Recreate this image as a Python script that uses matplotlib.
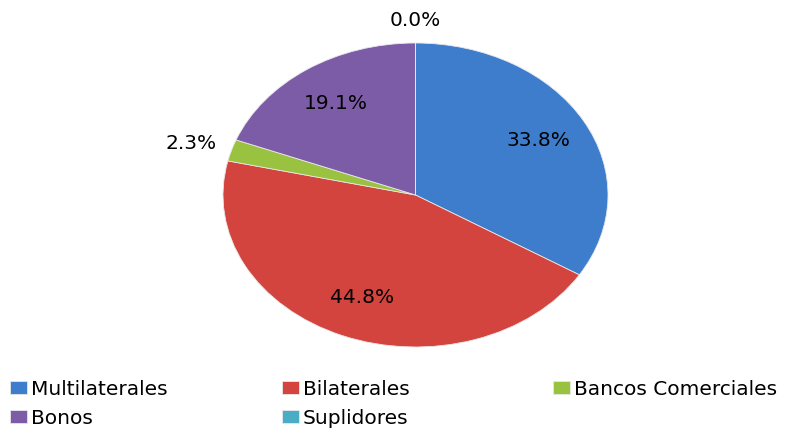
import numpy as np
import matplotlib.pyplot as plt

categories = ["Multilaterales", "Bilaterales", "Bancos Comerciales", "Bonos", "Suplidores"]
shares = [33.8, 44.8, 2.3, 19.1, 0.0]
colors = ["#3d7dcc", "#d4443f", "#98c23f", "#7d5ca7", "#4bacc6"]

plt.rcParams["font.family"] = ["DejaVu Sans"]

fig = plt.figure(figsize=(8.03, 4.30), dpi=100)
# axes box matches the squashed (3D-looking) ellipse of the pie
ax = fig.add_axes([223 / 803, 1 - 347 / 430, 385 / 803, 304 / 430])

wedges, texts, autotexts = ax.pie(
    shares, colors=colors, startangle=90, counterclock=False,
    autopct="%.1f%%", pctdistance=0.73,
    wedgeprops=dict(edgecolor="#e8e8e8", linewidth=0.6),
    textprops=dict(fontsize=14.5, color="black"))
ax.set_aspect("auto")
ax.set_xlim(-1, 1)
ax.set_ylim(-1, 1)

# small slices get their labels outside the pie
for w, t, v in zip(wedges, autotexts, shares):
    if v < 5:
        mid = np.deg2rad((w.theta1 + w.theta2) / 2)
        t.set_position((1.22 * np.cos(mid), 1.15 * np.sin(mid)))

# legend laid out in three columns like the original
cols = [([0, 3], 0.012), ([1, 4], 0.351), ([2], 0.689)]
for idx, x0 in cols:
    leg = fig.legend([wedges[i] for i in idx], [categories[i] for i in idx],
                     loc="upper left", bbox_to_anchor=(x0, 0.117),
                     frameon=False, fontsize=14.5, handlelength=0.85,
                     handleheight=0.65, handletextpad=0.2, labelspacing=0.5,
                     borderaxespad=0, borderpad=0)

fig.savefig("out.png", dpi=100)
